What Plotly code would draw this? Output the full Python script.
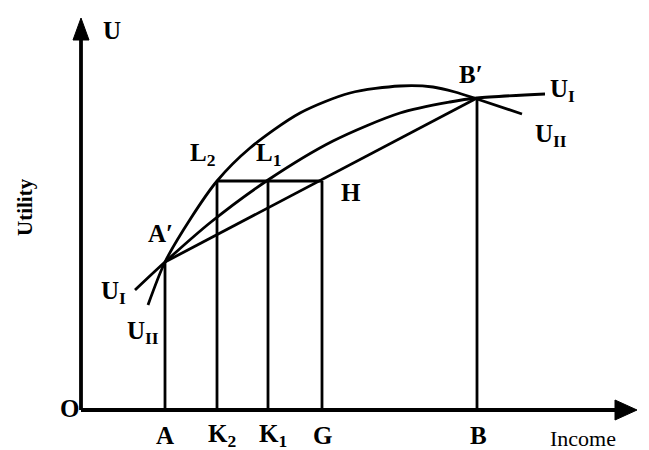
import plotly.graph_objects as go

# Income positions of marked points
pt_names = ["A", "K2", "K1", "G", "B"]
pt_income = [84, 136, 187, 241, 396]
# Utility levels
util_A = 148
util_B = 312
util_H = 229

# U_I curve
ui_x = [54, 84, 130, 187, 252, 319, 369, 396, 464]
ui_y = [120, 148, 188, 230, 269, 297, 308, 312, 316]

# U_II curve
uii_x = [67, 84, 110, 136, 169, 219, 269, 319, 352, 374, 396, 441]
uii_y = [105, 148, 192, 229, 262, 297, 317, 324, 323, 318, 311, 296]

# Straight chord A'B'
chord_x = [84, 396]
chord_y = [148, 312]

FONT = "Liberation Serif"
LW = 2.8
fig = go.Figure()

line = dict(color="black", width=LW)
fig.add_trace(go.Scatter(x=ui_x, y=ui_y, mode="lines", line=dict(color="black", width=LW, shape="spline", smoothing=0.8)))
fig.add_trace(go.Scatter(x=uii_x, y=uii_y, mode="lines", line=dict(color="black", width=LW, shape="spline", smoothing=0.8)))
fig.add_trace(go.Scatter(x=chord_x, y=chord_y, mode="lines", line=line))

# verticals
vx, vy = [], []
tops = [util_A, util_H, util_H, util_H, util_B]
for xv, t in zip(pt_income, tops):
    vx += [xv, xv, None]
    vy += [0, t, None]
# horizontal K2..G at H level
vx += [pt_income[1], pt_income[3], None]
vy += [util_H, util_H, None]
fig.add_trace(go.Scatter(x=vx, y=vy, mode="lines", line=line))

# axes
fig.add_trace(go.Scatter(x=[0, 0, None, 0, 540], y=[378, 0, None, 0, 0], mode="lines",
                         line=dict(color="black", width=3.8)))
# arrowheads
fig.add_trace(go.Scatter(x=[-8, 8, 0, -8], y=[370, 370, 392, 370], mode="lines", fill="toself",
                         fillcolor="black", line=dict(color="black", width=1)))
fig.add_trace(go.Scatter(x=[534, 534, 556, 534], y=[-10, 10, 0, -10], mode="lines", fill="toself",
                         fillcolor="black", line=dict(color="black", width=1)))

def lab(x, y, t, size=25, **kw):
    fig.add_annotation(x=x, y=y, text=t, showarrow=False, xref="x", yref="y",
                       font=dict(family=FONT, size=size, color="black"), **kw)

lab(31, 380, "<b>U</b>")
lab(-12, 2, "<b>O</b>")
tick_labels = ["A", "K<sub>2</sub>", "K<sub>1</sub>", "G", "B"]
offs = [0, 5, 5, 0, 1]
for xv, t, o in zip(pt_income, tick_labels, offs):
    lab(xv + o, -25, "<b>" + t + "</b>", yanchor="middle")
lab(502, -28, "Income", size=22)
lab(-56, 203, "<b>Utility</b>", size=21, textangle=-90)
lab(79, 177, "<b>A′</b>")
lab(32, 118, "<b>U<sub>I</sub></b>")
lab(62, 78, "<b>U<sub>II</sub></b>")
lab(121, 256, "<b>L<sub>2</sub></b>")
lab(187, 256, "<b>L<sub>1</sub></b>")
lab(270, 218, "<b>H</b>")
lab(390, 336, "<b>B′</b>")
lab(481, 320, "<b>U<sub>I</sub></b>")
lab(470, 275, "<b>U<sub>II</sub></b>")

fig.update_layout(width=649, height=450, margin=dict(l=0, r=0, t=0, b=0),
                  paper_bgcolor="white", plot_bgcolor="white", showlegend=False,
                  xaxis=dict(range=[-81, 568], visible=False),
                  yaxis=dict(range=[-40, 410], visible=False))
fig.write_html("out.html", config={"displayModeBar": False},
               post_script="document.body.style.margin='0';document.body.style.overflow='hidden';")
